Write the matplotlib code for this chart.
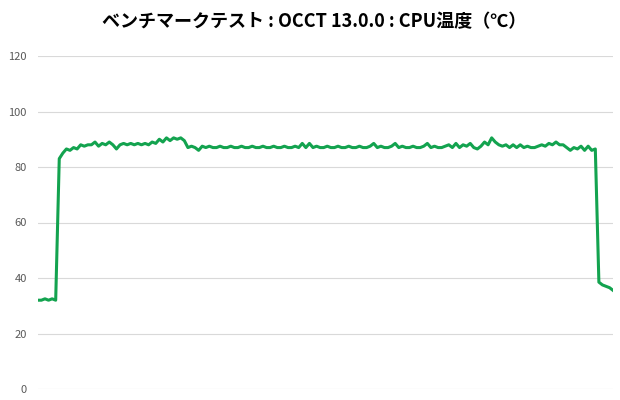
import numpy as np
import matplotlib
matplotlib.use("Agg")
import matplotlib.pyplot as plt

# CPU温度の推移 (OCCT 13.0.0)
title = "ベンチマークテスト : OCCT 13.0.0 : CPU温度（℃）"
y_ticks = [0, 20, 40, 60, 80, 100, 120]

temp_idle = [32, 32, 32.5, 32, 32.5, 32]
temp_ramp = [83, 85, 86.5, 86, 87, 86.5, 88, 87.5, 88, 88, 89, 87.5, 88.5, 88, 89,
             88, 86.5, 88, 88.5, 88, 88.5, 88, 88.5, 88, 88.5, 88, 89, 88.5,
             90, 89, 90.5, 89.5, 90.5, 90, 90.5, 89.5]
temp_load = [87, 87.5, 87, 86, 87.5, 87, 87.5, 87, 87, 87.5, 87, 87, 87.5, 87, 87,
             87.5, 87, 87, 87.5, 87, 87, 87.5, 87, 87, 87.5, 87, 87, 87.5, 87, 87,
             87.5, 87, 88.5, 87, 88.5, 87, 87.5, 87, 87, 87.5, 87, 87, 87.5, 87, 87,
             87.5, 87, 87, 87.5, 87, 87, 87.5, 88.5, 87, 87.5, 87, 87, 87.5, 88.5, 87,
             87.5, 87, 87, 87.5, 87, 87, 87.5, 88.5, 87, 87.5, 87, 87, 87.5, 88, 87,
             88.5, 87, 88, 87.5, 88.5, 87, 86.5, 87.5, 89, 88, 90.5, 89, 88, 87.5, 88,
             87, 88, 87, 88, 87, 87.5, 87, 87, 87.5, 88, 87.5, 88.5, 88, 89, 88, 88,
             87, 86, 87, 86.5, 87.5, 86, 87.5, 86, 86.5]
temp_cool = [38.5, 37.5, 37, 36.5, 35.5]

temps = temp_idle + temp_ramp + temp_load + temp_cool
x = np.arange(len(temps))

plt.rcParams['font.family'] = ['Noto Sans CJK JP', 'DejaVu Sans']

fig = plt.figure(figsize=(6.2, 4.0), dpi=100)
ax = fig.add_axes([0.061, 0.0275, 0.928, 0.8325])

ax.plot(x, temps, color="#13a34f", linewidth=2.2, solid_joinstyle="round")

ax.set_xlim(0, len(temps) - 1)
ax.set_ylim(0, 120)
ax.set_yticks(y_ticks)
ax.set_xticks([])
ax.grid(axis="y", color="#d9d9d9", linewidth=0.8)
ax.set_axisbelow(True)
for s in ax.spines.values():
    s.set_visible(False)
ax.tick_params(axis="y", length=0, pad=8, labelsize=8, labelcolor="#595959")

fig.text(0.507, 0.945, title, ha="center", va="center", fontsize=13, fontweight="bold", color="#000000")

fig.savefig("out.png", dpi=100)
